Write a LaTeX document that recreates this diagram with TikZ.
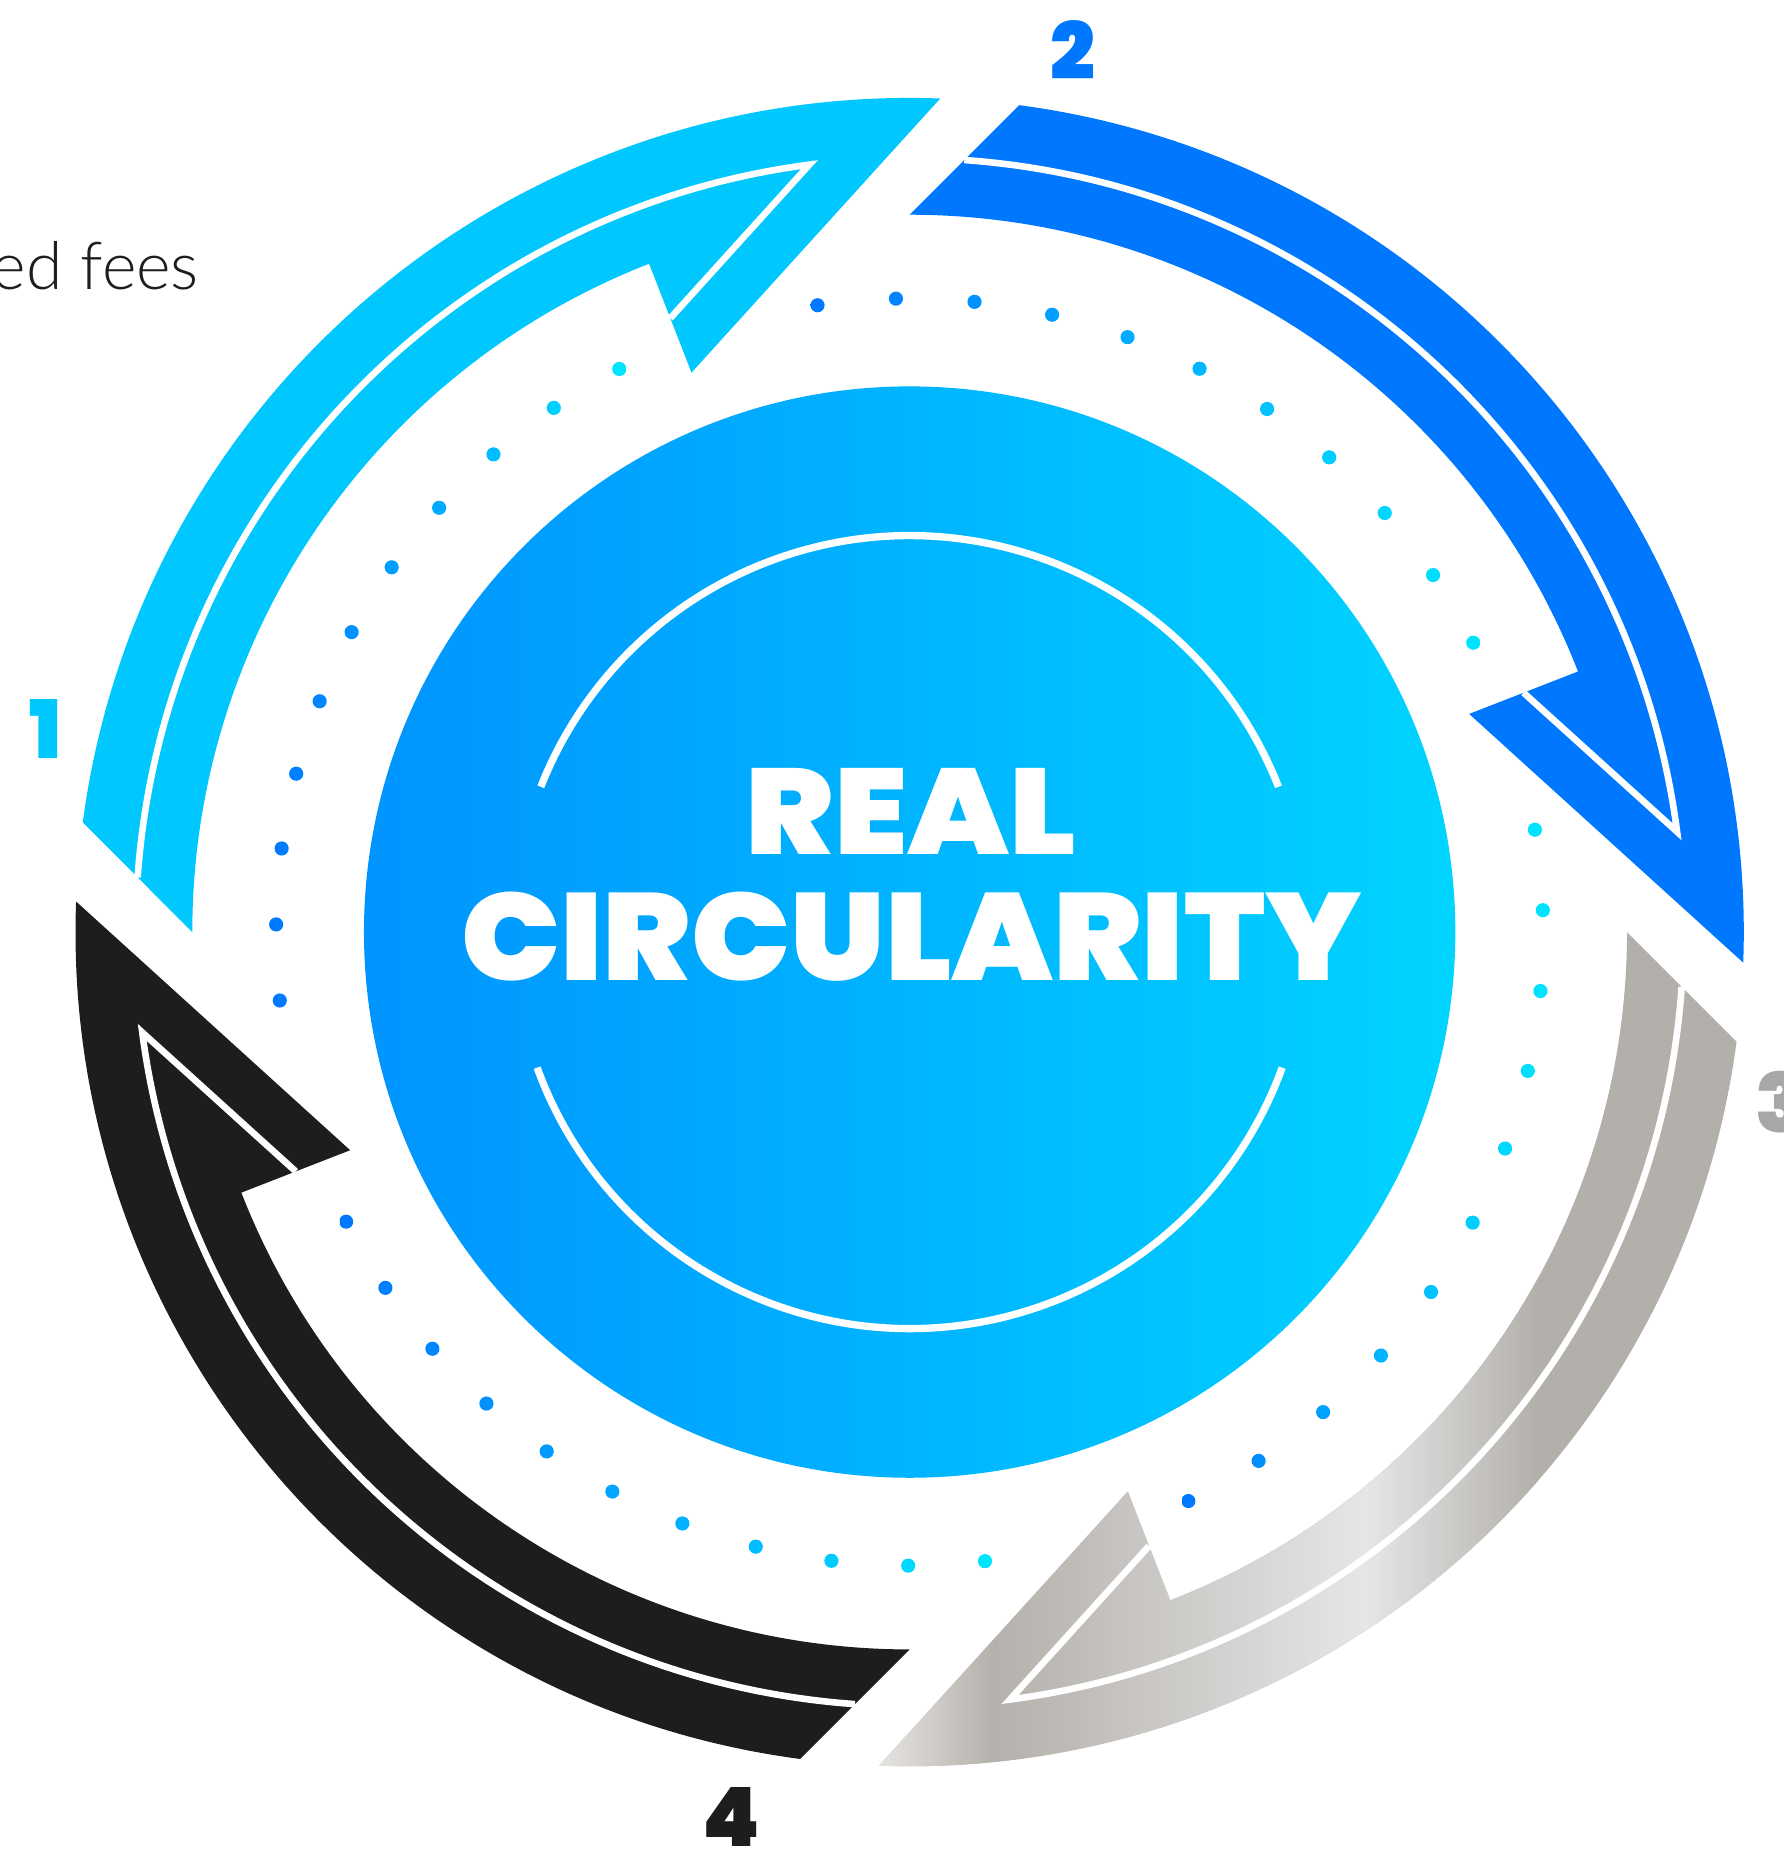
\documentclass[tikz,border=0pt]{standalone}
\usepackage{fontspec}
\newfontfamily\pop{Poppins}
\newfontfamily\popk{Poppins Black}
\newfontfamily\lightf{Lato Light}
\usetikzlibrary{calc}
\definecolor{cOne}{HTML}{00C8FF}
\definecolor{cTwo}{HTML}{0077FF}
\definecolor{cThree}{HTML}{B3B0AB}
\definecolor{cFour}{HTML}{1D1D1B}
\definecolor{gA}{HTML}{E8E6E4}
\definecolor{gB}{HTML}{B5B1AC}
\definecolor{gC}{HTML}{E6E6E6}
\definecolor{numThree}{HTML}{A8A7A5}
\definecolor{dotblue}{HTML}{0077FF}
\definecolor{dotcyan}{HTML}{00E6FF}
\definecolor{circL}{HTML}{0094FF}
\definecolor{circR}{HTML}{00D4FF}
\newcommand\ringarrow[1]{({172.45+(#1)}:707) arc[start angle={172.45+(#1)}, end angle={87.9+(#1)}, radius=707] -- ({111.3+(#1)}:509) -- ({111.3+(#1)}:608) arc[start angle={111.3+(#1)}, end angle={180+(#1)}, radius=608] -- cycle}
\newcommand\ringline[1]{({175.95+(#1)}:656) arc[start angle={175.95+(#1)}, end angle={97.45+(#1)}, radius=656] -- ({111.3+(#1)}:558.5)}
\newcommand\dotarc[4]{% start, step, xmin, xmax
  \begin{scope}
    \clip \foreach \k in {0,...,10}{({#1+\k*(#2)}:537) circle[radius=6]};
    \shade[left color=dotblue,right color=dotcyan] ({#3-6},-600) rectangle ({#4+6},600);
  \end{scope}}
\tikzset{
  whiteline/.style={draw=white, line width=2.8pt},
  innerarc/.style={draw=white, line width=3.1pt},
  numlabel/.style={inner sep=0pt, font=\popk},
  titletext/.style={inner sep=0pt, text=white, font=\popk}
}
\begin{document}
\begin{tikzpicture}[x=0.5pt,y=0.5pt]
\useasboundingbox (-771,-778) rectangle (741,790);
% ring arrows
\fill[cOne] \ringarrow{0};
\fill[cTwo] \ringarrow{-90};
\fill[cThree] \ringarrow{-180};
\begin{scope}
  \clip \ringarrow{-180};
  \shade[left color=gA, right color=gB] (-30,-800) rectangle (71,20);
  \shade[left color=gB, right color=gC] (71,-800) rectangle (387,20);
  \shade[left color=gC, right color=cThree] (387,-800) rectangle (533,20);
\end{scope}
\fill[cFour] \ringarrow{90};
\foreach \o in {0,-90,-180,90}{\path[whiteline] \ringline{\o};}
% dotted arcs
\dotarc{117.28}{6.892}{-537}{-246}
\dotarc{27.18}{7.118}{-78}{479}
\dotarc{-63.9}{7.32}{237}{537}
\dotarc{-152.8}{6.963}{-477}{64}
% central disc
\shade[left color=circL, right color=circR] (0,0) circle[radius=462.5];
\path[innerarc] (21.5:336) arc[start angle=21.5, end angle=158.5, radius=336];
\path[innerarc] (200:336) arc[start angle=200, end angle=340, radius=336];
\node[titletext] (real) at (1,102.5) {\resizebox{140pt}{36.5pt}{REAL}};
\node[titletext] (circ) at (1.5,-3.5) {\resizebox{381.5pt}{37.5pt}{CIRCULARITY}};
% numbers
\node[numlabel, text=cOne] (n1) at (-732,172) {\resizebox{!}{25pt}{1}};
\node[numlabel, text=cTwo] (n2) at (138,747.5) {\resizebox{!}{25pt}{2}};
\node[numlabel, text=numThree] (n3) at (738,-144) {\resizebox{!}{26pt}{3}};
\node[numlabel, text=cFour] (n4) at (-151,-750) {\resizebox{!}{25pt}{4}};
% side text
\node[inner sep=0pt, anchor=base east, text=cFour, font=\lightf\fontsize{28}{30}\selectfont] (fees) at (-602,545) {ed fees};
\end{tikzpicture}
\end{document}
